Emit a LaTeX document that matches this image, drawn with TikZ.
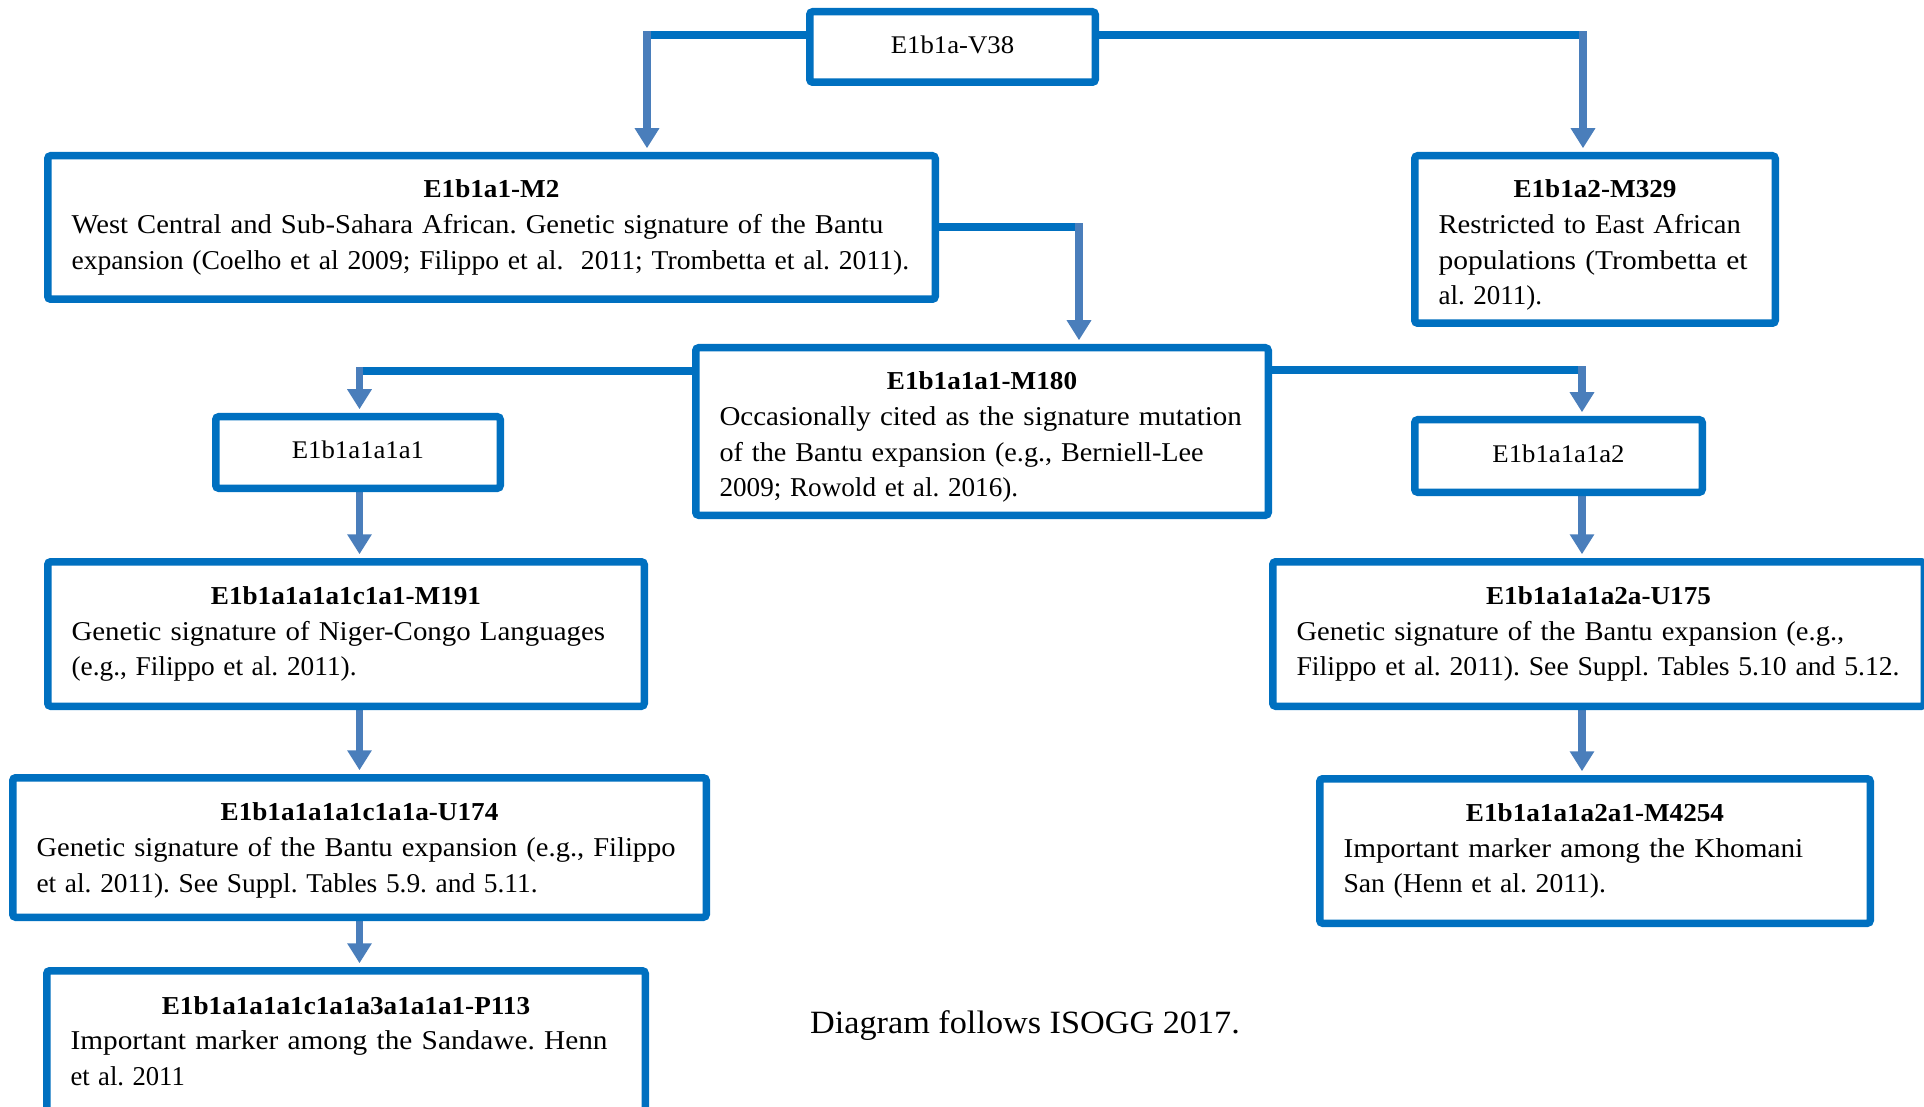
\documentclass[tikz,border=0pt]{standalone}
\usepackage{graphicx}
\usepackage{fontspec}
\setmainfont{Liberation Serif}[FakeStretch=1.053]
\usetikzlibrary{arrows.meta,backgrounds}
\definecolor{boxblue}{RGB}{0,112,192}
\definecolor{arrblue}{RGB}{74,126,187}
\newcommand\bodyfont{\fontsize{13.6pt}{17.85pt}\selectfont}
\newcommand\ttlfont{\fontsize{12.9pt}{17.85pt}\selectfont\bfseries}
\newcommand\boxttl[2][0pt]{{\centering\ttlfont\rule{0pt}{#1}#2\par}}
\newcommand\lline[2][1]{\scalebox{#1}[1]{#2}}
\begin{document}
\frenchspacing
\begin{tikzpicture}[x=0.5pt,y=-0.5pt,
  tbox/.style={draw=boxblue, line width=3.75pt, fill=white, rounded corners=1.5pt,
    inner xsep=11.9pt, inner ysep=0pt, align=left, font=\bodyfont},
  lbox/.style={draw=boxblue, line width=3.75pt, fill=white, rounded corners=1.5pt,
    inner sep=0pt, text depth=2.4pt, font=\fontsize{12.7pt}{15pt}\selectfont},
  hline/.style={draw=boxblue, line width=3.75pt},
  varrow/.style={draw=arrblue, line width=3.75pt,
    -{Triangle[width=11.7pt,length=10pt]}, shorten >=1.875pt}]
\useasboundingbox (0,0) rectangle (1924,1107);

% nodes
\node[lbox, minimum width=142.75pt, minimum height=35.25pt] (v38) at (952.5,47) {E1b1a-V38};

\node[tbox, minimum width=443.75pt, minimum height=71.75pt, text width=419.95pt] (m2) at (491.5,227.5)
  {\boxttl{E1b1a1-M2}\lline{West Central and Sub-Sahara African. Genetic signature of the Bantu}\\
   \lline[0.965]{expansion (Coelho et al 2009; Filippo et al.\ \ 2011; Trombetta et al. 2011).}};

\node[tbox, minimum width=180.25pt, minimum height=83.75pt, text width=156.45pt] (m329) at (1595,239.5)
  {\boxttl[14.8pt]{E1b1a2-M329}\lline{Restricted to East African}\\\lline[1.029]{populations (Trombetta et}\\\lline[0.943]{al. 2011).}};

\node[tbox, minimum width=286.25pt, minimum height=83.75pt, text width=262.45pt] (m180) at (982,431.5)
  {\boxttl[14.8pt]{E1b1a1a1-M180}\lline[1.012]{Occasionally cited as the signature mutation}\\
   \lline[0.985]{of the Bantu expansion (e.g., Berniell-Lee}\\\lline[0.949]{2009; Rowold et al. 2016).}};

\node[lbox, minimum width=142.25pt, minimum height=35.75pt] (a1) at (358,452.5) {E1b1a1a1a1};
\node[lbox, minimum width=143.75pt, minimum height=36.25pt] (a2) at (1558.5,456) {E1b1a1a1a2};

\node[tbox, minimum width=298.25pt, minimum height=72.25pt, text width=274.45pt] (m191) at (346,634)
  {\boxttl{E1b1a1a1a1c1a1-M191}\lline[1.009]{Genetic signature of Niger-Congo Languages}\\\lline[0.955]{(e.g., Filippo et al. 2011).}};

\node[tbox, minimum width=346.75pt, minimum height=69.75pt, text width=322.95pt] (u174) at (359.5,847.5)
  {\boxttl[11.8pt]{E1b1a1a1a1c1a1a-U174}\lline[0.996]{Genetic signature of the Bantu expansion (e.g., Filippo}\\
   \lline[0.956]{et al. 2011). See Suppl. Tables 5.9. and 5.11.}};

\node[tbox, minimum width=299.25pt, minimum height=70.25pt, text width=275.45pt] (p113) at (346,1041)
  {\boxttl{E1b1a1a1a1c1a1a3a1a1a1-P113}\lline[1.023]{Important marker among the Sandawe. Henn}\\\lline[0.93]{et al. 2011}};

\node[tbox, minimum width=325.75pt, minimum height=72.25pt, text width=301.95pt] (u175) at (1598.5,634)
  {\boxttl{E1b1a1a1a2a-U175}\lline[0.996]{Genetic signature of the Bantu expansion (e.g.,}\\
   \lline[0.966]{Filippo et al. 2011). See Suppl. Tables 5.10 and 5.12.}};

\node[tbox, minimum width=275.25pt, minimum height=72.25pt, text width=251.45pt] (m4254) at (1595,851)
  {\boxttl{E1b1a1a1a2a1-M4254}\lline[1.022]{Important marker among the Khomani}\\\lline[0.964]{San (Henn et al. 2011).}};

\node[font=\fontsize{16.25pt}{19pt}\selectfont, anchor=base, inner sep=0pt] (note) at (1025,1033)
  {Diagram follows ISOGG 2017.};

% junctions
\coordinate (j1) at (647,35);
\coordinate (j2) at (1583,35);
\coordinate (j3) at (1079,227);
\coordinate (j4) at (359.5,371);
\coordinate (j5) at (1582,370);

\begin{scope}[on background layer]
  \draw[hline] (v38.west |- j1) -- (j1);
  \draw[varrow] ([yshift=1.875pt]j1) -- (j1 |- m2.north);
  \draw[hline] (v38.east |- j2) -- (j2);
  \draw[varrow] ([yshift=1.875pt]j2) -- (j2 |- m329.north);
  \draw[hline] (m2.east |- j3) -- (j3);
  \draw[varrow] ([yshift=1.875pt]j3) -- (j3 |- m180.north);
  \draw[hline] (m180.west |- j4) -- (j4);
  \draw[varrow] ([yshift=1.875pt]j4) -- (j4 |- a1.north);
  \draw[hline] (m180.east |- j5) -- (j5);
  \draw[varrow] ([yshift=1.875pt]j5) -- (j5 |- a2.north);
  \draw[varrow] (j4 |- a1.south) -- (j4 |- m191.north);
  \draw[varrow] (j4 |- m191.south) -- (j4 |- u174.north);
  \draw[varrow] (j4 |- u174.south) -- (j4 |- p113.north);
  \draw[varrow] (j5 |- a2.south) -- (j5 |- u175.north);
  \draw[varrow] (j5 |- u175.south) -- (j5 |- m4254.north);
\end{scope}
\end{tikzpicture}
\end{document}
